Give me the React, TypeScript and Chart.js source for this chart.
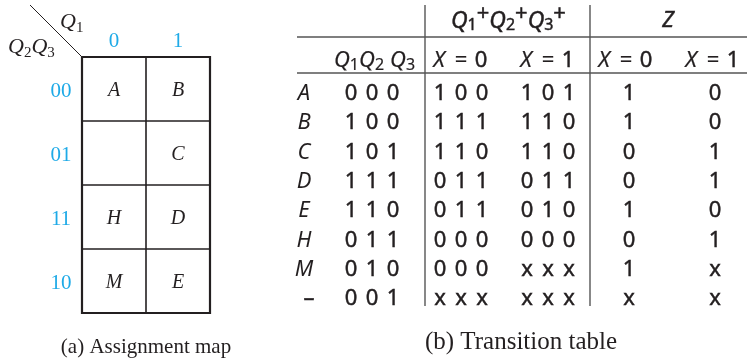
import React, { useEffect, useRef } from "react";
import { Chart, registerables } from "chart.js";

Chart.register(...registerables);

// ---- data ----
const mapColLabels = ["0", "1"];
const mapRowLabels = ["00", "01", "11", "10"];
const mapCells = [
  ["A", "B"],
  ["", "C"],
  ["H", "D"],
  ["M", "E"],
];
const stateNames = ["A", "B", "C", "D", "E", "H", "M", "–"];
const stateCodes = ["000", "100", "101", "111", "110", "011", "010", "001"];
const nextX0 = ["100", "111", "110", "011", "011", "000", "000", "xxx"];
const nextX1 = ["101", "110", "110", "011", "010", "000", "xxx", "xxx"];
const zX0 = ["1", "1", "0", "0", "1", "0", "1", "x"];
const zX1 = ["0", "0", "1", "1", "0", "1", "x", "x"];
const captionA = "(a) Assignment map";
const captionB = "(b) Transition table";

// ---- layout / style ----
const W = 747;
const H = 361;
const SERIF = '"Liberation Serif", "DejaVu Serif", serif';
const SANS = '"Noto Sans", "Open Sans", sans-serif';
const BLUE = "#1eaae7";
const INK = "#231f20";
const MAP = { left: 82, top: 57, cell: 64 };
const TB = {
  row0: 100,
  step: 29.3,
  nameX: 304,
  codeX: 372,
  nx0X: 461,
  nx1X: 548,
  z0X: 629,
  z1X: 715,
  digitGap: 21,
  vLines: [425, 590],
  vTop: 5,
  vBottom: 306,
  hLines: [37, 73],
  hLeft: 297,
};

type Part = { t: string; font: string; dy?: number; dx?: number };

const tablePlugin = {
  id: "tablePlugin",
  afterDraw(chart: any) {
    const ctx: CanvasRenderingContext2D = chart.ctx;
    const xs = chart.scales.x;
    const ys = chart.scales.y;
    const px = (v: number) => xs.getPixelForValue(v);
    const py = (v: number) => ys.getPixelForValue(v);

    const text = (
      s: string,
      x: number,
      y: number,
      font: string,
      color = INK,
      heavy = 0
    ) => {
      ctx.font = font;
      ctx.fillStyle = color;
      ctx.textAlign = "center";
      ctx.textBaseline = "alphabetic";
      ctx.fillText(s, px(x), py(y));
      if (heavy > 0) {
        ctx.strokeStyle = color;
        ctx.lineWidth = heavy;
        ctx.strokeText(s, px(x), py(y));
      }
    };
    const rich = (parts: Part[], x: number, y: number, color = INK, heavy = 0) => {
      let cx = px(x);
      ctx.fillStyle = color;
      ctx.strokeStyle = color;
      ctx.textAlign = "left";
      ctx.textBaseline = "alphabetic";
      for (const p of parts) {
        ctx.font = p.font;
        cx += p.dx || 0;
        ctx.fillText(p.t, cx, py(y + (p.dy || 0)));
        if (heavy > 0) {
          ctx.lineWidth = heavy;
          ctx.strokeText(p.t, cx, py(y + (p.dy || 0)));
        }
        cx += ctx.measureText(p.t).width;
      }
    };
    const line = (x1: number, y1: number, x2: number, y2: number, w: number, color: string) => {
      ctx.beginPath();
      ctx.strokeStyle = color;
      ctx.lineWidth = w;
      ctx.moveTo(px(x1), py(y1));
      ctx.lineTo(px(x2), py(y2));
      ctx.stroke();
    };

    ctx.save();

    // ===== assignment map =====
    const nR = mapRowLabels.length;
    const nC = mapColLabels.length;
    const right = MAP.left + nC * MAP.cell;
    const bottom = MAP.top + nR * MAP.cell;
    line(30, 5, MAP.left, MAP.top, 1, INK);
    rich(
      [
        { t: "Q", font: `italic 22px ${SERIF}` },
        { t: "1", font: `15px ${SERIF}`, dy: 4 },
      ],
      60,
      28
    );
    rich(
      [
        { t: "Q", font: `italic 22px ${SERIF}` },
        { t: "2", font: `15px ${SERIF}`, dy: 4 },
        { t: "Q", font: `italic 22px ${SERIF}` },
        { t: "3", font: `15px ${SERIF}`, dy: 4 },
      ],
      8,
      53
    );
    mapColLabels.forEach((l, c) => {
      text(l, MAP.left + (c + 0.5) * MAP.cell, 47, `21px ${SERIF}`, BLUE);
    });
    mapRowLabels.forEach((l, r) => {
      const cy = MAP.top + (r + 0.5) * MAP.cell;
      text(l, 61, cy + 8, `21px ${SERIF}`, BLUE);
      mapCells[r].forEach((s, c) => {
        if (s) text(s, MAP.left + (c + 0.5) * MAP.cell, cy + 7, `italic 20px ${SERIF}`);
      });
    });
    for (let r = 1; r < nR; r++) line(MAP.left, MAP.top + r * MAP.cell, right, MAP.top + r * MAP.cell, 1.6, INK);
    for (let c = 1; c < nC; c++) line(MAP.left + c * MAP.cell, MAP.top, MAP.left + c * MAP.cell, bottom, 1.6, INK);
    ctx.beginPath();
    ctx.strokeStyle = INK;
    ctx.lineWidth = 2.2;
    ctx.rect(px(MAP.left), py(MAP.top), px(right) - px(MAP.left), py(bottom) - py(MAP.top));
    ctx.stroke();
    text(captionA, (MAP.left + right) / 2, 353, `21px ${SERIF}`, INK);

    // ===== transition table =====
    const LG = "#555555";
    TB.hLines.forEach((y) => line(TB.hLeft, y, W, y, 1.4, LG));
    TB.vLines.forEach((x) => line(x, TB.vTop, x, TB.vBottom, 1.4, LG));

    const HV = 0.45;
    const sub = `16px ${SANS}`;
    const sup = `22px ${SANS}`;
    const qh = `italic 23px ${SANS}`;
    const qi = `italic 22px ${SANS}`;
    const body = `22px ${SANS}`;
    // header row 1
    const grp = (n: string): Part[] => [
      { t: "Q", font: qh },
      { t: n, font: sub, dy: 2 },
      { t: "+", font: sup, dy: -8 },
    ];
    rich([...grp("1"), ...grp("2"), ...grp("3")], 451, 28, INK, HV);
    text("Z", 668, 27, `italic 22px ${SANS}`, INK, HV);
    // header row 2
    rich(
      [
        { t: "Q", font: qi },
        { t: "1", font: sub, dy: 3 },
        { t: "Q", font: qi },
        { t: "2", font: sub, dy: 3 },
        { t: "Q", font: qi, dx: 6 },
        { t: "3", font: sub, dy: 3 },
      ],
      334,
      67,
      INK,
      0.2
    );
    const xeq = (c: number, d: string) => {
      text("X", c - 22, 67, qi, INK, 0.2);
      text("=", c, 67, body, INK, 0.2);
      text(d, c + 20, 67, body, INK, HV);
    };
    xeq(TB.nx0X, "0");
    xeq(TB.nx1X, "1");
    xeq(TB.z0X - 3, "0");
    xeq(TB.z1X - 2, "1");

    const triple = (s: string, c: number, y: number) => {
      s.split("").forEach((ch, i) => {
        text(ch, c + (i - 1) * TB.digitGap, y, body, INK, HV);
      });
    };
    stateNames.forEach((n, i) => {
      const y = TB.row0 + i * TB.step;
      if (n === "–") text(n, TB.nameX + 5, y, body, INK, HV);
      else text(n, TB.nameX, y, qi, INK, 0);
      triple(stateCodes[i], TB.codeX, y);
      triple(nextX0[i], TB.nx0X, y);
      triple(nextX1[i], TB.nx1X, y);
      text(zX0[i], TB.z0X, y, body, INK, HV);
      text(zX1[i], TB.z1X, y, body, INK, HV);
    });
    text(captionB, 521, 349, `25px ${SERIF}`, INK);

    ctx.restore();
  },
};

export default function App() {
  const ref = useRef<HTMLCanvasElement | null>(null);
  useEffect(() => {
    document.body.style.margin = "0";
    const canvas = ref.current;
    if (!canvas) return;
    const chart = new Chart(canvas, {
      type: "scatter",
      data: { datasets: [{ data: [], pointRadius: 0 }] },
      options: {
        animation: false,
        responsive: false,
        devicePixelRatio: 1,
        layout: { padding: 0 },
        plugins: { legend: { display: false }, tooltip: { enabled: false } },
        scales: {
          x: { type: "linear", min: 0, max: W, display: false },
          y: { type: "linear", min: 0, max: H, reverse: true, display: false },
        },
      },
      plugins: [tablePlugin],
    });
    return () => chart.destroy();
  }, []);
  return (
    <div style={{ width: W, height: H, background: "#fff" }}>
      <canvas ref={ref} width={W} height={H} style={{ display: "block" }} />
    </div>
  );
}
